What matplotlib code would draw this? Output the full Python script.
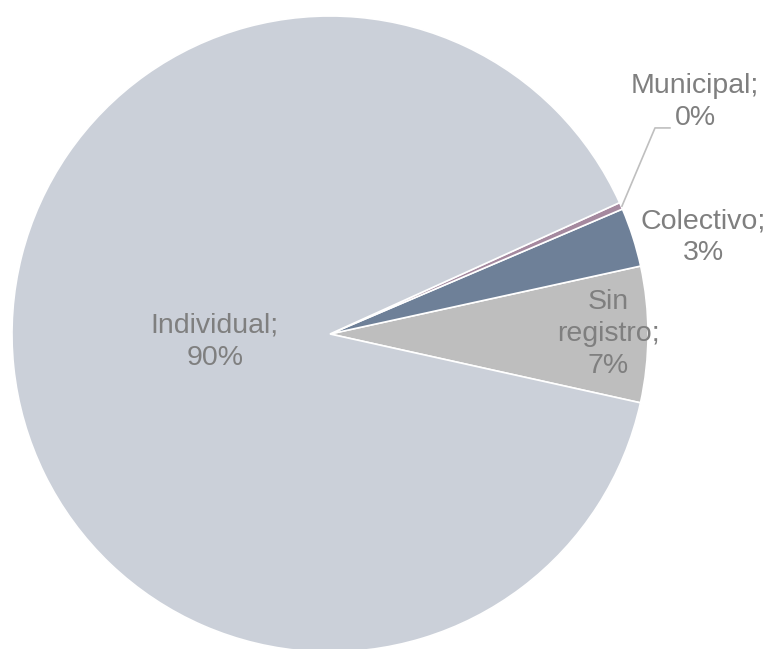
import matplotlib
matplotlib.use('Agg')
import matplotlib.pyplot as plt

plt.rcParams['font.family'] = ['Liberation Sans', 'DejaVu Sans']

# slice data, counter-clockwise from the first slice
categories = ['Sin registro', 'Colectivo', 'Municipal', 'Individual']
label_lines = ['Sin\nregistro;', 'Colectivo;', 'Municipal;', 'Individual;']
shares = [6.9, 3.0, 0.35, 89.75]
percent_labels = ['7%', '3%', '0%', '90%']
colors = ['#BEBEBE', '#6E8098', '#A5899F', '#CBD0D9']

# label positions in data units (pie radius = 1)
label_pos = [(0.875, 0.0), (1.174, 0.305), (1.148, 0.73), (-0.362, -0.025)]

fig = plt.figure(figsize=(7.72, 6.49), dpi=100)
ax = fig.add_axes([12 / 772, -3 / 649, 636 / 772, 636 / 649])

ax.pie(shares, colors=colors, startangle=-12.5, counterclock=True,
       wedgeprops={'edgecolor': 'white', 'linewidth': 1.2})
ax.set_xlim(-1, 1)
ax.set_ylim(-1, 1)
ax.set_aspect('equal')
ax.axis('off')

for name, pct, (x, y) in zip(label_lines, percent_labels, label_pos):
    ax.text(x, y, name + '\n' + pct, ha='center', va='center',
            fontsize=20.5, color='#7F7F7F', linespacing=1.3, clip_on=False)

# leader line for the tiny municipal slice
ax.plot([0.918, 1.022, 1.069], [0.402, 0.648, 0.648], color='#BFBFBF',
        linewidth=1.2, clip_on=False)

fig.savefig('out.png', dpi=100)
